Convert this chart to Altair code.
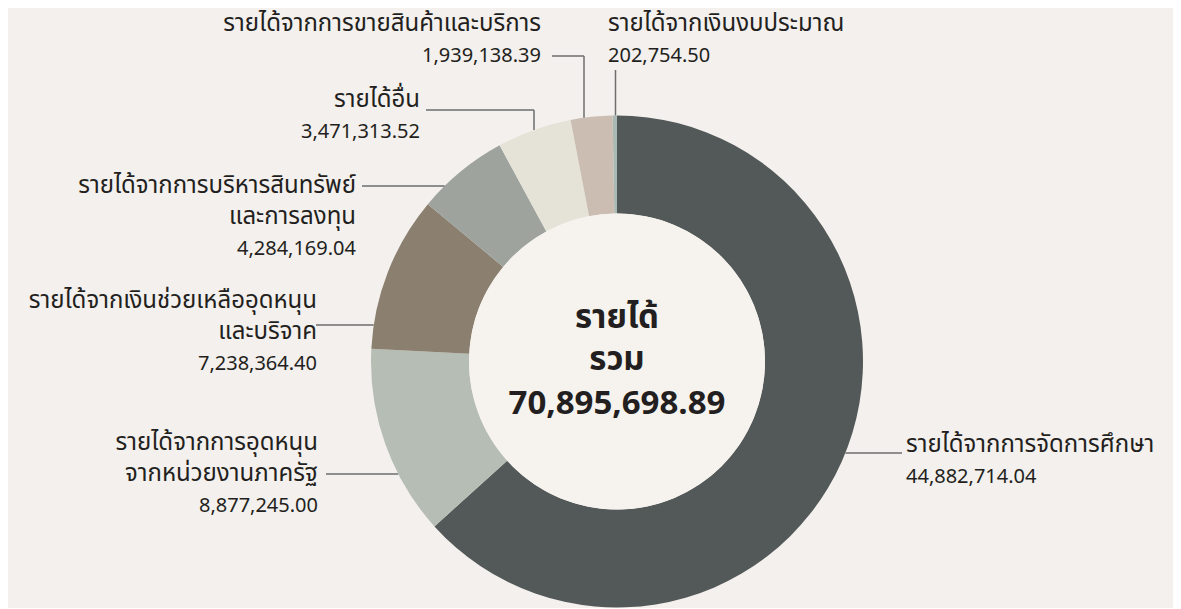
import math
import altair as alt
import pandas as pd

# ---------------- data ----------------
categories = [
    "รายได้จากการจัดการศึกษา",
    "รายได้จากการอุดหนุนจากหน่วยงานภาครัฐ",
    "รายได้จากเงินช่วยเหลืออุดหนุนและบริจาค",
    "รายได้จากการบริหารสินทรัพย์และการลงทุน",
    "รายได้อื่น",
    "รายได้จากการขายสินค้าและบริการ",
    "รายได้จากเงินงบประมาณ",
]
label_lines = [
    ["รายได้จากการจัดการศึกษา"],
    ["รายได้จากการอุดหนุน", "จากหน่วยงานภาครัฐ"],
    ["รายได้จากเงินช่วยเหลืออุดหนุน", "และบริจาค"],
    ["รายได้จากการบริหารสินทรัพย์", "และการลงทุน"],
    ["รายได้อื่น"],
    ["รายได้จากการขายสินค้าและบริการ"],
    ["รายได้จากเงินงบประมาณ"],
]
values = [44882714.04, 8877245.00, 7238364.40, 4284169.04, 3471313.52, 1939138.39, 202754.50]
center_title = ["รายได้", "รวม"]

# ---------------- styles / layout ----------------
colors = ["#535958", "#b6bdb4", "#8b7f6f", "#9ea39e", "#e5e3d7", "#cbbdb1", "#a9b9b4"]
BG = "#f3f0ed"
INNER = "#f6f3ef"
TXT = "#231f20"
LINE = "#6e6e6e"
FONT = "Noto Sans Thai, Noto Sans, sans-serif"
W, H = 1165, 593
CX, CY, R, RIN = 609, 353.5, 246, 148
LH = 31

# label anchor: (align, x, first baseline y)
label_pos = [
    ("left", 898, 444),
    ("right", 310, 442),
    ("right", 309, 300),
    ("right", 348, 185),
    ("right", 412, 99),
    ("right", 533, 23),
    ("left", 600, 23),
]
# leader: (kind, x_start, y_start, elbow_x)
leaders = [
    ("h", 894, 445, None),
    ("h", 318, 466, None),
    ("h", 308, 317, None),
    ("h", 354, 178, None),
    ("e", 418, 102, 526),
    ("e", 544, 48, 576),
    ("v", 607.5, 62, 607.5),
]

# ---------------- tables ----------------
total = sum(values)
arc_df = pd.DataFrame({"cat": categories, "val": values, "idx": list(range(len(values)))})

name_rows, val_rows = [], []
for i, (lines, v) in enumerate(zip(label_lines, values)):
    al, x, y = label_pos[i]
    name_rows.append({"txt": "\n".join(lines), "x": x, "y": y, "align": al})
    val_rows.append({"txt": f"{v:,.2f}", "x": x, "y": y + LH * len(lines), "align": al})
name_df = pd.DataFrame(name_rows)
val_df = pd.DataFrame(val_rows)

seg_rows = []
for i, (kind, xs, ys, ex) in enumerate(leaders):
    if kind == "h":
        dx = math.sqrt(R * R - (ys - CY) ** 2)
        xe = CX + dx if xs > CX else CX - dx
        seg_rows.append({"x": xs, "y": ys, "x2": xe, "y2": ys})
    else:
        ye = CY - math.sqrt(R * R - (ex - CX) ** 2)
        if kind == "e":
            seg_rows.append({"x": xs, "y": ys, "x2": ex, "y2": ys})
        seg_rows.append({"x": ex, "y": ys, "x2": ex, "y2": ye})
seg_df = pd.DataFrame(seg_rows)

center_df = pd.DataFrame({
    "txt": center_title + [f"{total:,.2f}"],
    "x": [CX, CX, CX],
    "y": [320, 362, 406],
})

xs = alt.Scale(domain=[0, W], nice=False, zero=False)
ys = alt.Scale(domain=[0, H], nice=False, zero=False, reverse=True)

arcs = alt.Chart(arc_df).mark_arc(outerRadius=R, innerRadius=RIN, strokeWidth=0).encode(
    theta=alt.Theta("val:Q", stack=True),
    color=alt.Color("cat:N", scale=alt.Scale(domain=categories, range=colors), legend=None),
    order=alt.Order("idx:Q"),
    x=alt.value(CX),
    y=alt.value(CY),
)

inner = alt.Chart(pd.DataFrame({"a": [0]})).mark_arc(
    outerRadius=RIN, innerRadius=0, theta=0, theta2=2 * math.pi, color=INNER
).encode(x=alt.value(CX), y=alt.value(CY))

rules = alt.Chart(seg_df).mark_rule(color=LINE, strokeWidth=1.5).encode(
    x=alt.X("x:Q", scale=xs, axis=None),
    y=alt.Y("y:Q", scale=ys, axis=None),
    x2="x2:Q",
    y2="y2:Q",
)

def text_layer(df, al, size):
    return alt.Chart(df).transform_filter(alt.datum.align == al).mark_text(
        align=al, baseline="alphabetic", font=FONT, fontSize=size, color=TXT,
        lineBreak="\n", lineHeight=LH,
    ).encode(
        x=alt.X("x:Q", scale=xs, axis=None),
        y=alt.Y("y:Q", scale=ys, axis=None),
        text="txt:N",
    )

center = alt.Chart(center_df).mark_text(
    align="center", baseline="alphabetic", font=FONT, fontSize=33, fontWeight="bold", color=TXT
).encode(
    x=alt.X("x:Q", scale=xs, axis=None),
    y=alt.Y("y:Q", scale=ys, axis=None),
    text="txt:N",
)

chart = alt.layer(
    arcs, inner, rules,
    text_layer(name_df, "left", 24), text_layer(name_df, "right", 24),
    text_layer(val_df, "left", 20), text_layer(val_df, "right", 20),
    center,
).properties(width=W, height=H, padding=0, background=BG).configure_view(stroke=None)

chart.save("out.html", embed_options={"renderer": "svg", "actions": False})
